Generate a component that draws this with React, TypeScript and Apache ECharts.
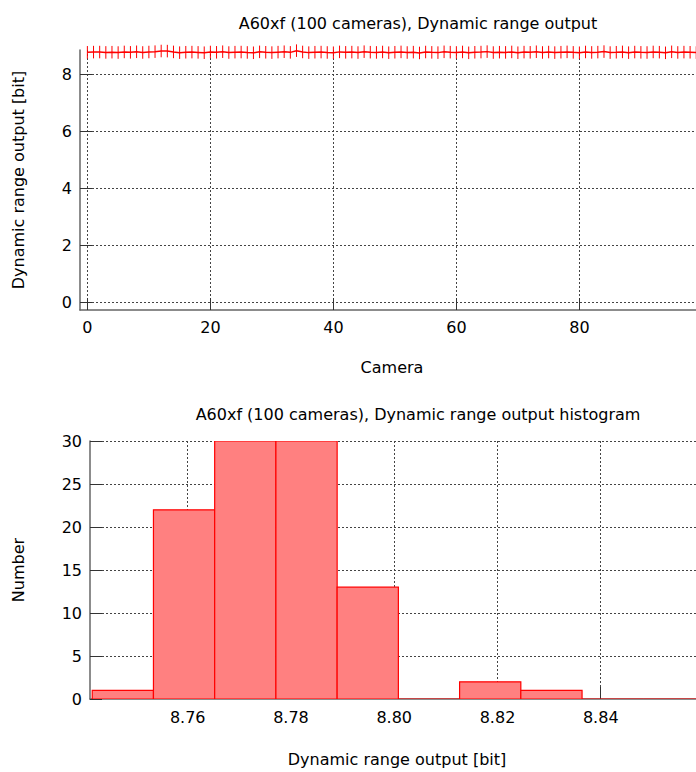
import React, { useEffect, useRef } from "react";
import * as echarts from "echarts";

// Dynamic range output per camera (bit), camera index = array position
const dynamicRange: number[] = [
  8.772, 8.779, 8.781, 8.768, 8.776, 8.763, 8.785, 8.771, 8.79, 8.766,
  8.782, 8.795, 8.818, 8.814, 8.786, 8.76, 8.774, 8.779, 8.769, 8.758,
  8.783, 8.772, 8.793, 8.764, 8.777, 8.781, 8.767, 8.756, 8.788, 8.773,
  8.762, 8.778, 8.792, 8.77, 8.83, 8.784, 8.761, 8.775, 8.78, 8.766,
  8.757, 8.787, 8.771, 8.779, 8.763, 8.794, 8.776, 8.768, 8.783, 8.759,
  8.774, 8.786, 8.765, 8.778, 8.75, 8.782, 8.77, 8.761, 8.789, 8.777,
  8.767, 8.784, 8.755, 8.773, 8.78, 8.796, 8.764, 8.776, 8.769, 8.785,
  8.758, 8.779, 8.772, 8.791, 8.766, 8.781, 8.762, 8.775, 8.787, 8.77,
  8.757, 8.783, 8.768, 8.778, 8.797, 8.763, 8.774, 8.786, 8.76, 8.78,
  8.771, 8.765, 8.784, 8.776, 8.754, 8.789, 8.767, 8.779, 8.773, 8.762,
];
const errorHalf = 0.22;

// Histogram
const histStart = 8.7415;
const histBinWidth = 0.01186;
const histCounts: number[] = [1, 22, 30, 30, 13, 0, 2, 1, 0, 0];

const titleTop = "A60xf (100 cameras), Dynamic range output";
const titleBottom = "A60xf (100 cameras), Dynamic range output histogram";
const xNameTop = "Camera";
const yNameTop = "Dynamic range output [bit]";
const xNameBottom = "Dynamic range output [bit]";
const yNameBottom = "Number";

const FONT = "DejaVu Sans";
const FS = 16;

export default function App() {
  const ref = useRef<HTMLDivElement>(null);
  useEffect(() => {
    if (!ref.current) return;
    const chart = echarts.init(ref.current, undefined, { renderer: "svg" });

    const axisLine = { show: true, onZero: false, lineStyle: { color: "#666", width: 1.5 } };
    const axisTick = { show: true, inside: true, length: 12, lineStyle: { color: "#333", width: 1 } };
    const splitLine = {
      show: true,
      showMinLine: false,
      showMaxLine: false,
      lineStyle: { color: "#444", type: [2, 2], width: 1 },
    };
    const label = (extra: any = {}) => ({
      color: "#000",
      fontFamily: FONT,
      fontSize: FS,
      showMinLabel: false,
      showMaxLabel: false,
      ...extra,
    });

    const histData = histCounts.map((c, i) => [
      histStart + i * histBinWidth,
      histStart + (i + 1) * histBinWidth,
      c,
    ]);

    const textStyle = { fontFamily: FONT, fontSize: FS, color: "#000", fontWeight: "normal" as const };

    chart.setOption({
      animation: false,
      backgroundColor: "#fff",
      title: [
        { text: titleTop, left: 413, top: 10, textAlign: "center", textStyle },
        { text: titleBottom, left: 413, top: 401, textAlign: "center", textStyle },
      ],
      grid: [
        { left: 80, top: 50, right: 0, height: 260 },
        { left: 90, top: 441, right: 0, height: 258 },
      ],
      xAxis: [
        {
          gridIndex: 0,
          type: "value",
          min: -1.2,
          max: 98.96,
          axisLine,
          axisTick,
          splitLine,
          axisLabel: label({ margin: 9 }),
        },
        {
          gridIndex: 1,
          type: "value",
          min: 8.74107,
          max: 8.85845,
          axisLine,
          axisTick,
          splitLine,
          axisLabel: label({ margin: 10, formatter: (v: number) => v.toFixed(2) }),
        },
      ],
      yAxis: [
        {
          gridIndex: 0,
          type: "value",
          min: -0.27,
          max: 8.853,
          axisLine,
          axisTick,
          splitLine,
          axisLabel: label({ margin: 8 }),
        },
        {
          gridIndex: 1,
          type: "value",
          min: 0,
          max: 30,
          interval: 5,
          axisLine,
          axisTick,
          splitLine: { ...splitLine, showMinLine: false, showMaxLine: true },
          axisLabel: label({ margin: 8, showMinLabel: true, showMaxLabel: true }),
        },
      ],
      graphic: [
        {
          type: "text",
          x: 392,
          y: 367,
          style: { text: xNameTop, font: `${FS}px "${FONT}"`, fill: "#000", align: "center", verticalAlign: "middle" },
        },
        {
          type: "text",
          x: 397,
          y: 759,
          style: { text: xNameBottom, font: `${FS}px "${FONT}"`, fill: "#000", align: "center", verticalAlign: "middle" },
        },
        {
          type: "text",
          x: 18,
          y: 180,
          rotation: Math.PI / 2,
          style: { text: yNameTop, font: `${FS}px "${FONT}"`, fill: "#000", align: "center", verticalAlign: "middle" },
        },
        {
          type: "text",
          x: 18,
          y: 570,
          rotation: Math.PI / 2,
          style: { text: yNameBottom, font: `${FS}px "${FONT}"`, fill: "#000", align: "center", verticalAlign: "middle" },
        },
      ],
      series: [
        {
          type: "custom",
          xAxisIndex: 0,
          yAxisIndex: 0,
          clip: false,
          data: dynamicRange.map((v, i) => [i, v - errorHalf, v + errorHalf]),
          encode: { x: 0, y: [1, 2] },
          renderItem: (params: any, api: any) => {
            const x = api.value(0);
            const p1 = api.coord([x, api.value(1)]);
            const p2 = api.coord([x, api.value(2)]);
            return {
              type: "line",
              shape: { x1: p1[0], y1: p1[1], x2: p2[0], y2: p2[1] },
              style: { stroke: "#ff0000", lineWidth: 1 },
            };
          },
          z: 3,
        },
        {
          type: "line",
          xAxisIndex: 0,
          yAxisIndex: 0,
          data: dynamicRange.map((v, i) => [i, v]),
          showSymbol: false,
          symbol: "none",
          lineStyle: { color: "#ff0000", width: 1.5 },
          z: 4,
        },
        {
          type: "custom",
          xAxisIndex: 1,
          yAxisIndex: 1,
          clip: true,
          data: histData,
          encode: { x: [0, 1], y: 2 },
          renderItem: (params: any, api: any) => {
            const a = api.coord([api.value(0), api.value(2)]);
            const b = api.coord([api.value(1), 0]);
            return {
              type: "rect",
              shape: { x: a[0], y: a[1], width: b[0] - a[0], height: b[1] - a[1] },
              style: { fill: "#ff8080", stroke: "#ff0000", lineWidth: 1.2 },
            };
          },
          z: 3,
        },
      ],
    });
    return () => chart.dispose();
  }, []);

  return (
    <div style={{ position: "absolute", left: 0, top: 0, width: 696, height: 772, overflow: "hidden", background: "#fff" }}>
      <div ref={ref} style={{ width: 696, height: 772 }} />
    </div>
  );
}
